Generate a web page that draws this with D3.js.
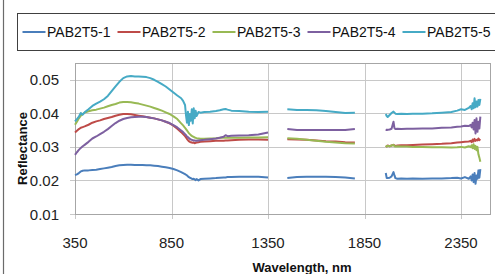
<!DOCTYPE html>
<html lang="en">
<head>
    <meta charset="UTF-8">
    <title>Reflectance spectra</title>
    <script src="https://d3js.org/d3.v7.min.js"></script>
    <style>
        body { margin: 0; background: #fff; }
        svg { display: block; font-family: "Liberation Sans", Arial, sans-serif; }
        .grid line { stroke: #c8c8c8; stroke-width: 1; }
        .tick-label { font-size: 15px; fill: #222; }
        .axis-title { font-size: 13px; font-weight: bold; fill: #111; }
        .legend-text { font-size: 14px; fill: #111; }
        .series { fill: none; stroke-width: 2; stroke-linejoin: round; }
    </style>
</head>
<body>
<svg id="chart" width="495" height="274"></svg>
<script>
    // wavelengths (nm); 1400 and 1880 are the water-band gaps
    const wavelengths = [
        350, 360, 370, 380, 390, 400, 420, 440, 460, 480,
        500, 520, 540, 560, 580, 600, 620, 640, 660, 680,
        700, 720, 740, 760, 780, 800, 820, 840, 860, 880,
        900, 910, 920, 925, 930, 935, 940, 945, 950, 955,
        960, 965, 970, 975, 980, 990, 1000, 1020, 1050, 1080,
        1100, 1120, 1130, 1140, 1160, 1200, 1250, 1300, 1350, 1400,
        1450, 1500, 1550, 1600, 1650, 1700, 1750, 1800, 1880, 1960,
        1965, 1970, 1980, 1990, 2000, 2005, 2010, 2020, 2040, 2070,
        2100, 2150, 2200, 2250, 2300, 2330, 2350, 2370, 2390, 2400,
        2405, 2410, 2415, 2420, 2425, 2430, 2435, 2440, 2445, 2450
    ];

    const pab1 = [
        0.0216, 0.0218, 0.0222, 0.0227, 0.0229, 0.0230, 0.0230, 0.0231, 0.0232, 0.0234,
        0.0236, 0.0238, 0.0240, 0.0243, 0.0245, 0.0246, 0.0247, 0.0247, 0.0246, 0.0246,
        0.0246, 0.0245, 0.0245, 0.0244, 0.0243, 0.0241, 0.0239, 0.0237, 0.0234, 0.0230,
        0.0225, 0.0222, 0.0219, 0.0217, 0.0215, 0.0212, 0.0210, 0.0208, 0.0207, 0.0205,
        0.0204, 0.0205, 0.0203, 0.0201, 0.0204, 0.0200, 0.0204, 0.0205, 0.0206, 0.0207,
        0.0208, 0.0209, 0.0209, 0.0210, 0.0210, 0.0211, 0.0211, 0.0211, 0.0209, null,
        0.0207, 0.0210, 0.0211, 0.0211, 0.0211, 0.0210, 0.0209, 0.0206, null, 0.0222,
        0.0207, 0.0207, 0.0208, 0.0212, 0.0225, 0.0215, 0.0207, 0.0205, 0.0206, 0.0205,
        0.0206, 0.0205, 0.0206, 0.0206, 0.0207, 0.0208, 0.0206, 0.0210, 0.0205, 0.0212,
        0.0200, 0.0218, 0.0195, 0.0222, 0.0190, 0.0215, 0.0205, 0.0230, 0.0208, 0.0234
    ];

    const pab2 = [
        0.0343, 0.0348, 0.0353, 0.0357, 0.0359, 0.0361, 0.0366, 0.0372, 0.0376, 0.0379,
        0.0383, 0.0386, 0.0389, 0.0393, 0.0396, 0.0398, 0.0398, 0.0397, 0.0395, 0.0393,
        0.0391, 0.0389, 0.0387, 0.0385, 0.0382, 0.0379, 0.0375, 0.0370, 0.0363, 0.0354,
        0.0344, 0.0338, 0.0332, 0.0328, 0.0324, 0.0320, 0.0317, 0.0315, 0.0314, 0.0313,
        0.0312, 0.0313, 0.0311, 0.0312, 0.0313, 0.0314, 0.0315, 0.0316, 0.0317, 0.0318,
        0.0318, 0.0318, 0.0319, 0.0319, 0.0320, 0.0321, 0.0322, 0.0322, 0.0321, null,
        0.0323, 0.0322, 0.0321, 0.0319, 0.0317, 0.0316, 0.0314, 0.0313, null, 0.0303,
        0.0301, 0.0304, 0.0302, 0.0304, 0.0306, 0.0304, 0.0303, 0.0304, 0.0305, 0.0305,
        0.0306, 0.0307, 0.0308, 0.0309, 0.0311, 0.0313, 0.0314, 0.0315, 0.0316, 0.0318,
        0.0314, 0.0322, 0.0316, 0.0324, 0.0318, 0.0321, 0.0319, 0.0325, 0.0320, 0.0323
    ];

    const pab3 = [
        0.0366, 0.0375, 0.0385, 0.0393, 0.0398, 0.0402, 0.0406, 0.0409, 0.0411, 0.0414,
        0.0417, 0.0421, 0.0425, 0.0428, 0.0432, 0.0434, 0.0434, 0.0433, 0.0431, 0.0429,
        0.0426, 0.0423, 0.0420, 0.0416, 0.0412, 0.0408, 0.0403, 0.0398, 0.0391, 0.0383,
        0.0370, 0.0364, 0.0357, 0.0353, 0.0349, 0.0345, 0.0341, 0.0338, 0.0335, 0.0333,
        0.0331, 0.0330, 0.0328, 0.0327, 0.0326, 0.0325, 0.0324, 0.0324, 0.0325, 0.0326,
        0.0327, 0.0327, 0.0327, 0.0327, 0.0327, 0.0327, 0.0328, 0.0328, 0.0329, null,
        0.0326, 0.0324, 0.0321, 0.0318, 0.0315, 0.0313, 0.0311, 0.0310, null, 0.0304,
        0.0301, 0.0303, 0.0302, 0.0304, 0.0306, 0.0302, 0.0301, 0.0302, 0.0301, 0.0301,
        0.0300, 0.0300, 0.0299, 0.0299, 0.0298, 0.0299, 0.0300, 0.0298, 0.0302, 0.0299,
        0.0305, 0.0296, 0.0308, 0.0294, 0.0303, 0.0290, 0.0300, 0.0278, 0.0268, 0.0256
    ];

    const pab4 = [
        0.0276, 0.0284, 0.0291, 0.0297, 0.0302, 0.0306, 0.0315, 0.0325, 0.0331, 0.0338,
        0.0345, 0.0353, 0.0362, 0.0371, 0.0378, 0.0383, 0.0386, 0.0388, 0.0389, 0.0390,
        0.0390, 0.0389, 0.0387, 0.0385, 0.0382, 0.0379, 0.0375, 0.0371, 0.0365, 0.0358,
        0.0349, 0.0344, 0.0338, 0.0335, 0.0331, 0.0329, 0.0326, 0.0324, 0.0322, 0.0321,
        0.0320, 0.0319, 0.0319, 0.0318, 0.0318, 0.0319, 0.0320, 0.0321, 0.0323, 0.0325,
        0.0327, 0.0330, 0.0335, 0.0332, 0.0333, 0.0334, 0.0335, 0.0337, 0.0343, null,
        0.0353, 0.0350, 0.0350, 0.0350, 0.0350, 0.0350, 0.0350, 0.0353, null, 0.0352,
        0.0350, 0.0351, 0.0352, 0.0354, 0.0375, 0.0356, 0.0353, 0.0354, 0.0353, 0.0354,
        0.0354, 0.0355, 0.0355, 0.0357, 0.0358, 0.0360, 0.0361, 0.0363, 0.0362, 0.0366,
        0.0358, 0.0372, 0.0352, 0.0380, 0.0340, 0.0385, 0.0345, 0.0375, 0.0355, 0.0390
    ];

    const pab5 = [
        0.0376, 0.0383, 0.0390, 0.0401, 0.0396, 0.0403, 0.0412, 0.0422, 0.0429, 0.0435,
        0.0442, 0.0452, 0.0466, 0.0480, 0.0494, 0.0505, 0.0510, 0.0511, 0.0510, 0.0510,
        0.0509, 0.0508, 0.0505, 0.0500, 0.0494, 0.0487, 0.0480, 0.0471, 0.0462, 0.0453,
        0.0445, 0.0437, 0.0425, 0.0395, 0.0372, 0.0405, 0.0365, 0.0398, 0.0378, 0.0412,
        0.0370, 0.0415, 0.0385, 0.0408, 0.0392, 0.0404, 0.0402, 0.0404, 0.0405, 0.0407,
        0.0409, 0.0412, 0.0413, 0.0411, 0.0408, 0.0407, 0.0405, 0.0404, 0.0405, null,
        0.0412, 0.0410, 0.0410, 0.0409, 0.0407, 0.0404, 0.0401, 0.0402, null, 0.0398,
        0.0392, 0.0389, 0.0395, 0.0401, 0.0405, 0.0402, 0.0399, 0.0398, 0.0399, 0.0398,
        0.0399, 0.0399, 0.0400, 0.0402, 0.0404, 0.0408, 0.0412, 0.0410, 0.0416, 0.0422,
        0.0412, 0.0430, 0.0415, 0.0445, 0.0418, 0.0435, 0.0420, 0.0440, 0.0425, 0.0443
    ];

    const seriesNames = ["PAB2T5-1", "PAB2T5-2", "PAB2T5-3", "PAB2T5-4", "PAB2T5-5"];
    const seriesValues = [pab1, pab2, pab3, pab4, pab5];
    const colors = ["#4a7ebb", "#be4b48", "#98b954", "#7d60a0", "#46aac5"];

    const xTicks = [350, 850, 1350, 1850, 2350];
    const yTicks = [0.01, 0.02, 0.03, 0.04, 0.05];

    const svg = d3.select("#chart");
    const plot = { left: 75, right: 490, top: 63, bottom: 214 };

    const x = d3.scaleLinear().domain([350, 2500]).range([plot.left, plot.right]);
    const y = d3.scaleLinear().domain([0.01, 0.055]).range([plot.bottom, plot.top]);

    // outer chart frame (only the left edge is inside the crop)
    svg.append("line")
        .attr("x1", 3.5).attr("x2", 3.5).attr("y1", 0).attr("y2", 274)
        .attr("stroke", "#6b6b6b").attr("stroke-width", 1.2);

    // legend box
    svg.append("rect")
        .attr("x", 17.5).attr("y", 13.5).attr("width", 500).attr("height", 37)
        .attr("fill", "#fff").attr("stroke", "#404040").attr("stroke-width", 1);

    const legend = svg.append("g");
    seriesNames.forEach((name, i) => {
        const lx = 22.5 + i * 95;
        legend.append("line")
            .attr("x1", lx).attr("x2", lx + 23).attr("y1", 32).attr("y2", 32)
            .attr("stroke", colors[i]).attr("stroke-width", 2);
        legend.append("text")
            .attr("class", "legend-text")
            .attr("x", lx + 24.5).attr("y", 37)
            .text(name);
    });

    // grid lines
    const grid = svg.append("g").attr("class", "grid");
    grid.selectAll(".h").data(yTicks).enter().append("line")
        .attr("x1", plot.left - 5).attr("x2", plot.right)
        .attr("y1", d => Math.round(y(d)) + 0.5).attr("y2", d => Math.round(y(d)) + 0.5);
    grid.selectAll(".v").data(xTicks).enter().append("line")
        .attr("x1", d => Math.round(x(d)) + 0.5).attr("x2", d => Math.round(x(d)) + 0.5)
        .attr("y1", plot.top).attr("y2", plot.bottom + 5);

    // plot area border
    svg.append("rect")
        .attr("x", plot.left + 0.5).attr("y", plot.top + 0.5)
        .attr("width", plot.right - plot.left).attr("height", plot.bottom - plot.top)
        .attr("fill", "none").attr("stroke", "#a6a6a6").attr("stroke-width", 1);

    // tick labels
    svg.selectAll(".ylab").data(yTicks).enter().append("text")
        .attr("class", "tick-label")
        .attr("x", 59).attr("y", d => y(d) + 5.5)
        .attr("text-anchor", "end")
        .text(d => d3.format(".2f")(d));

    svg.selectAll(".xlab").data(xTicks).enter().append("text")
        .attr("class", "tick-label")
        .attr("x", d => x(d)).attr("y", 248)
        .attr("text-anchor", "middle")
        .text(d => d);

    // axis titles
    svg.append("text")
        .attr("class", "axis-title")
        .attr("transform", "translate(26.5,148.5) rotate(-90)")
        .attr("text-anchor", "middle")
        .text("Reflectance");

    svg.append("text")
        .attr("class", "axis-title")
        .attr("x", 302).attr("y", 272)
        .attr("text-anchor", "middle")
        .text("Wavelength, nm");

    // spectra
    const line = d3.line()
        .defined(d => d[1] !== null)
        .x(d => x(d[0]))
        .y(d => y(d[1]));

    seriesValues.forEach((vals, i) => {
        const pts = wavelengths.map((w, j) => [w, vals[j]]);
        svg.append("path")
            .attr("class", "series")
            .attr("stroke", colors[i])
            .attr("d", line(pts));
    });
</script>
</body>
</html>
